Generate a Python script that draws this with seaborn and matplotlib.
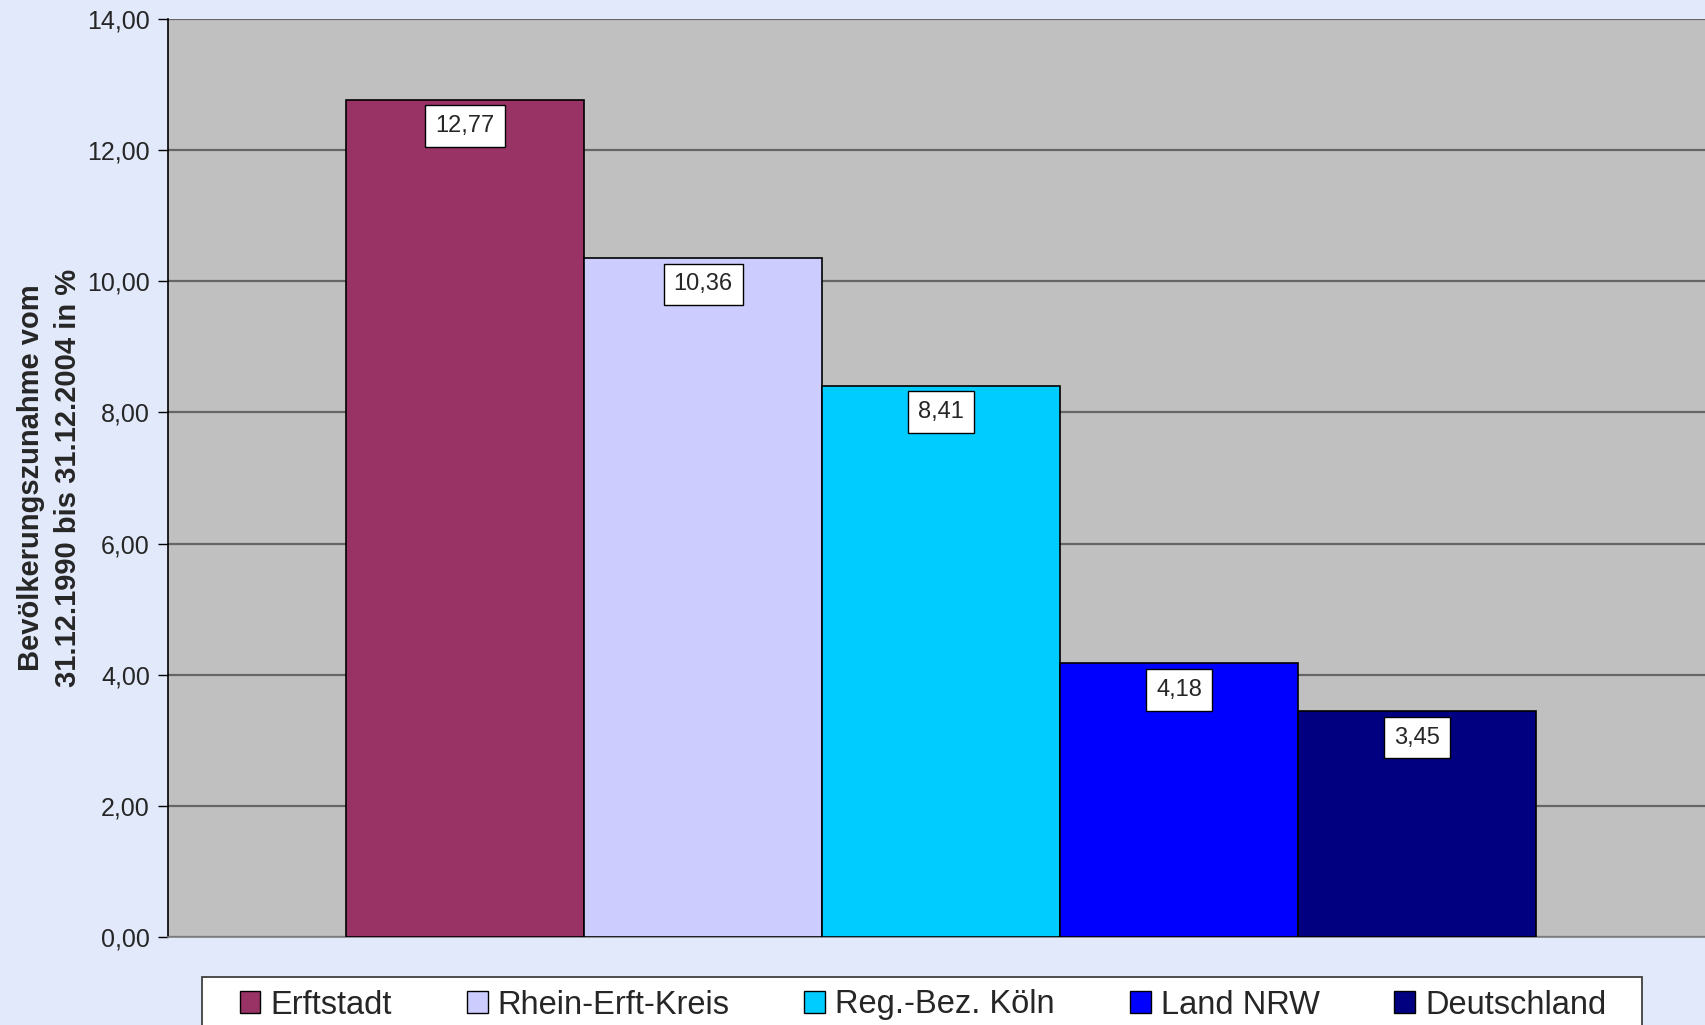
import matplotlib
matplotlib.use("Agg")
import matplotlib.pyplot as plt
import matplotlib.ticker as mticker
from matplotlib.patches import Patch, Rectangle
import seaborn as sns
import pandas as pd

# Data
regions = ["Erftstadt", "Rhein-Erft-Kreis", "Reg.-Bez. Köln", "Land NRW", "Deutschland"]
growth = [12.77, 10.36, 8.41, 4.18, 3.45]
colors = ["#993366", "#CCCCFF", "#00CCFF", "#0000FF", "#000080"]
y_ticks = [0, 2, 4, 6, 8, 10, 12, 14]
y_label = "Bevölkerungszunahme vom\n31.12.1990 bis 31.12.2004 in %"


def de_num(v):
    return f"{v:.2f}".replace(".", ",")


def main():
    sns.set_style("white")
    plt.rcParams["font.family"] = ["Liberation Sans", "DejaVu Sans"]

    df = pd.DataFrame({"Region": regions, "Zunahme": growth})

    W, H = 1705, 1025
    fig = plt.figure(figsize=(W / 100, H / 100), dpi=100, facecolor="#E1E9FA")
    ax = fig.add_axes([168 / W, 88 / H, 1 - 168 / W, (937 - 19) / H])
    ax.set_facecolor("#C0C0C0")

    sns.barplot(data=df, x="Region", y="Zunahme", hue="Region", palette=colors,
                saturation=1, width=1.0, edgecolor="black", linewidth=1.2,
                legend=False, ax=ax, zorder=3)

    # value labels in white boxes just under the top of each bar
    for i, v in enumerate(growth):
        ax.text(i, v - 0.24, de_num(v), ha="center", va="top", fontsize=17,
                zorder=5,
                bbox=dict(boxstyle="square,pad=0.42", facecolor="white",
                          edgecolor="black", linewidth=1))

    ax.set_ylim(0, 14)
    ax.set_xlim(-1.248, 5.21)
    ax.set_yticks(y_ticks)
    ax.yaxis.set_major_formatter(mticker.FuncFormatter(lambda v, p: de_num(v)))
    ax.tick_params(axis="y", direction="out", length=7, width=1, color="black",
                   labelsize=18, pad=6, left=True)
    ax.set_xticks([])
    ax.set_xlabel("")
    ax.grid(axis="y", color="#666666", linewidth=1.6, zorder=1)
    ax.set_axisbelow(True)

    for side in ["top", "right"]:
        ax.spines[side].set_visible(False)
    ax.spines["left"].set_color("black")
    ax.spines["left"].set_linewidth(1.2)
    ax.spines["bottom"].set_color("#808080")
    ax.spines["bottom"].set_linewidth(1.2)

    ax.set_ylabel(y_label, fontsize=21, fontweight="bold", labelpad=4,
                  linespacing=1.4)

    # legend frame (white box running off the bottom edge)
    fig.patches.append(Rectangle((202 / W, -0.02), (1642 - 202) / W, (H - 977) / H + 0.02,
                                 transform=fig.transFigure, facecolor="white",
                                 edgecolor="#404040", linewidth=1.3, zorder=1))

    handles = [Patch(facecolor=c, edgecolor="black", linewidth=1) for c in colors]
    fig.legend(handles, regions, ncol=5, loc="center",
               bbox_to_anchor=(923 / W, 1 - 1005 / H),
               fontsize=23.5, frameon=False,
               handlelength=0.64, handleheight=0.64, handletextpad=0.3,
               columnspacing=2.3, borderpad=0, borderaxespad=0)

    fig.savefig("out.png", dpi=100, facecolor=fig.get_facecolor())
    plt.close(fig)


if __name__ == "__main__":
    main()
